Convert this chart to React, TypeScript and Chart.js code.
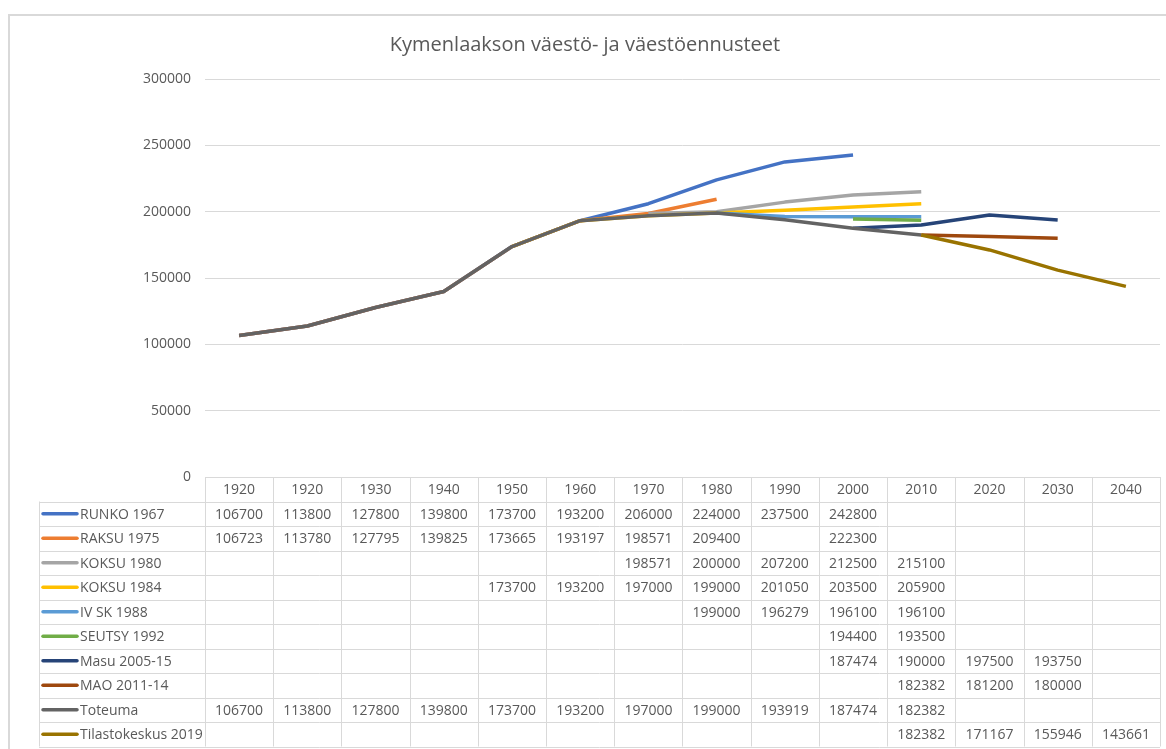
import React, { useEffect, useRef } from "react";
import { Chart, registerables } from "chart.js";

Chart.register(...registerables);

const chartTitle = "Kymenlaakson väestö- ja väestöennusteet";
const yearLabels = ["1920", "1920", "1930", "1940", "1950", "1960", "1970", "1980", "1990", "2000", "2010", "2020", "2030", "2040"];

const seriesNames = [
  "RUNKO 1967",
  "RAKSU 1975",
  "KOKSU 1980",
  "KOKSU 1984",
  "IV SK 1988",
  "SEUTSY 1992",
  "Masu 2005-15",
  "MAO 2011-14",
  "Toteuma",
  "Tilastokeskus 2019",
];

const seriesColors = ["#4472C4", "#ED7D31", "#A5A5A5", "#FFC000", "#5B9BD5", "#70AD47", "#264478", "#9E480E", "#636363", "#997300"];

const runko1967 = [106700, 113800, 127800, 139800, 173700, 193200, 206000, 224000, 237500, 242800, null, null, null, null];
const raksu1975 = [106723, 113780, 127795, 139825, 173665, 193197, 198571, 209400, null, 222300, null, null, null, null];
const koksu1980 = [null, null, null, null, null, null, 198571, 200000, 207200, 212500, 215100, null, null, null];
const koksu1984 = [null, null, null, null, 173700, 193200, 197000, 199000, 201050, 203500, 205900, null, null, null];
const ivsk1988 = [null, null, null, null, null, null, null, 199000, 196279, 196100, 196100, null, null, null];
const seutsy1992 = [null, null, null, null, null, null, null, null, null, 194400, 193500, null, null, null];
const masu200515 = [null, null, null, null, null, null, null, null, null, 187474, 190000, 197500, 193750, null];
const mao201114 = [null, null, null, null, null, null, null, null, null, null, 182382, 181200, 180000, null];
const toteuma = [106700, 113800, 127800, 139800, 173700, 193200, 197000, 199000, 193919, 187474, 182382, null, null, null];
const tilastokeskus2019 = [null, null, null, null, null, null, null, null, null, null, 182382, 171167, 155946, 143661];

const seriesValues = [runko1967, raksu1975, koksu1980, koksu1984, ivsk1988, seutsy1992, masu200515, mao201114, toteuma, tilastokeskus2019];

const FONT = "'Open Sans', sans-serif";
const TEXT = "#595959";
const GRID = "#d9d9d9";
const ROW_H = 24.5;
const LEG_LEFT = 39;

const tablePlugin = {
  id: "dataTable",
  beforeDraw(chart: any) {
    const ctx = chart.ctx;
    ctx.save();
    ctx.fillStyle = "#ffffff";
    ctx.fillRect(0, 0, chart.width, chart.height);
    ctx.strokeStyle = GRID;
    ctx.lineWidth = 2;
    ctx.beginPath();
    ctx.moveTo(9, chart.height);
    ctx.lineTo(9, 15);
    ctx.lineTo(chart.width, 15);
    ctx.stroke();
    ctx.restore();
  },
  afterDraw(chart: any) {
    const ctx = chart.ctx;
    const xs = chart.scales.x;
    const area = chart.chartArea;
    const n = yearLabels.length;
    const colW = xs.getPixelForValue(1) - xs.getPixelForValue(0);
    const left = xs.getPixelForValue(0) - colW / 2;
    const right = xs.getPixelForValue(n - 1) + colW / 2;
    const top = area.bottom;
    const rows = seriesNames.length;
    const bottom = top + ROW_H * (rows + 1);
    ctx.save();
    // title
    ctx.fillStyle = TEXT;
    ctx.font = `20px ${FONT}`;
    ctx.textAlign = "center";
    ctx.textBaseline = "middle";
    ctx.fillText(chartTitle, 585, 45);

    // grid lines
    ctx.strokeStyle = GRID;
    ctx.lineWidth = 1;
    ctx.beginPath();
    ctx.moveTo(left, top + 0.5);
    ctx.lineTo(right, top + 0.5);
    for (let r = 1; r <= rows + 1; r++) {
      const y = Math.round(top + r * ROW_H) + 0.5;
      ctx.moveTo(LEG_LEFT, y);
      ctx.lineTo(right, y);
    }
    for (let c = 0; c <= n; c++) {
      const x = Math.round(left + c * colW) + 0.5;
      ctx.moveTo(x, top);
      ctx.lineTo(x, bottom);
    }
    ctx.moveTo(LEG_LEFT + 0.5, top + ROW_H);
    ctx.lineTo(LEG_LEFT + 0.5, bottom);
    ctx.stroke();

    ctx.font = `14px ${FONT}`;
    ctx.fillStyle = TEXT;
    ctx.textAlign = "center";
    ctx.textBaseline = "middle";
    for (let c = 0; c < n; c++) {
      ctx.fillText(yearLabels[c], xs.getPixelForValue(c), top + ROW_H / 2 + 1);
    }
    for (let r = 0; r < rows; r++) {
      const cy = top + ROW_H * (r + 1) + ROW_H / 2 + 1;
      const vals = seriesValues[r];
      ctx.textAlign = "center";
      for (let c = 0; c < n; c++) {
        const v = vals[c];
        if (v !== null && v !== undefined) ctx.fillText(String(v), xs.getPixelForValue(c), cy);
      }
      ctx.strokeStyle = seriesColors[r];
      ctx.lineWidth = 3.5;
      ctx.lineCap = "round";
      ctx.beginPath();
      ctx.moveTo(43, cy - 1);
      ctx.lineTo(77, cy - 1);
      ctx.stroke();
      ctx.textAlign = "left";
      ctx.fillText(seriesNames[r], 80, cy);
    }
    ctx.restore();
  },
};

export default function App() {
  const ref = useRef<HTMLCanvasElement | null>(null);
  useEffect(() => {
    if (!ref.current) return;
    const chart = new Chart(ref.current, {
      type: "line",
      data: {
        labels: yearLabels,
        datasets: seriesNames.map((name, i) => ({
          label: name,
          data: seriesValues[i],
          borderColor: seriesColors[i],
          backgroundColor: seriesColors[i],
          borderWidth: 3.5,
          pointRadius: 0,
          tension: 0,
          spanGaps: false,
          borderCapStyle: "butt",
          borderJoinStyle: "round",
          order: seriesNames.length - i,
        })),
      },
      options: {
        responsive: false,
        animation: false,
        layout: { padding: { top: 79, bottom: 749 - 477, left: 0, right: 6 } },
        plugins: { legend: { display: false }, title: { display: false }, tooltip: { enabled: false } },
        scales: {
          x: { type: "category", offset: true, display: false },
          y: {
            min: 0,
            max: 300000,
            afterFit: (s: any) => {
              s.width = 205;
            },
            ticks: {
              stepSize: 50000,
              color: TEXT,
              font: { family: FONT, size: 14 },
              padding: 14,
              callback: (v: any) => String(v),
            },
            grid: { color: GRID, lineWidth: 1, drawTicks: false },
            border: { display: false },
          },
        },
      },
      plugins: [tablePlugin],
    } as any);
    return () => chart.destroy();
  }, []);
  return (
    <div style={{ position: "absolute", left: 0, top: 0, width: 1166, height: 749 }}>
      <canvas ref={ref} width={1166} height={749} />
    </div>
  );
}
